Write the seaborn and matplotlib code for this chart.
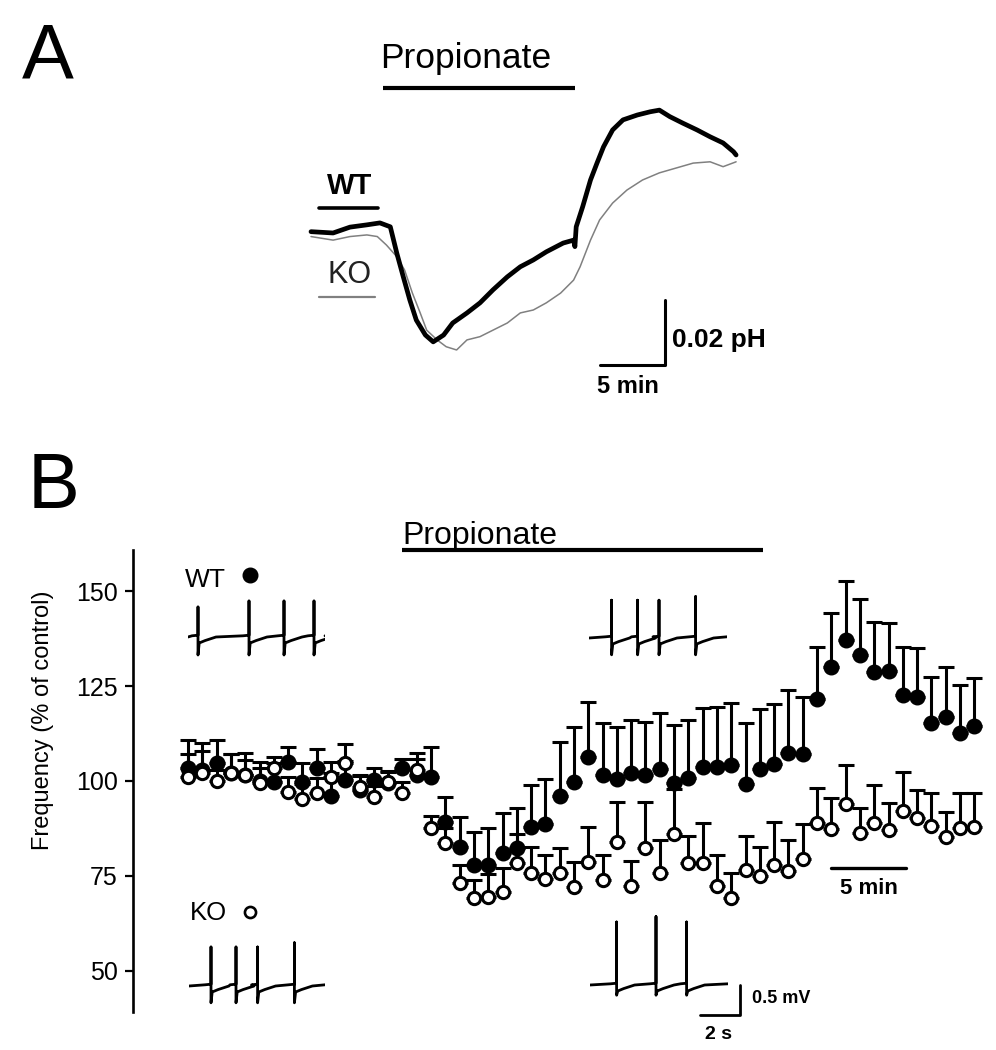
import numpy as np
import pandas as pd
import matplotlib
matplotlib.use("Agg")
import matplotlib.pyplot as plt
import matplotlib.transforms as mtransforms
import seaborn as sns

sns.set_style("white")
plt.rcParams['font.family'] = ['Liberation Sans', 'DejaVu Sans']
plt.rcParams['text.color'] = 'black'
plt.rcParams['axes.labelcolor'] = 'black'
plt.rcParams['ytick.color'] = 'black'

# Panel A: intracellular pH traces (time in min, change in milli-pH units)
WT_PH_TIME = [0.0, 1.7, 3.0, 4.3, 5.3, 6.1, 6.6, 7.1, 7.6, 8.1, 8.8, 9.4, 10.2, 10.9,
              12.0, 13.0, 14.0, 15.1, 16.1, 17.1, 18.1, 19.4, 20.2, 20.3, 20.4, 20.9,
              21.5, 22.0, 22.5, 23.2, 24.0, 25.1, 26.1, 26.8, 27.6, 28.6, 29.7, 30.7,
              31.7, 32.5, 32.7]
WT_PH = [0.1, -0.3, 1.5, 2.2, 2.8, 1.6, -6.5, -13.8, -20.9, -27.1, -31.7, -33.8, -31.7,
         -28.0, -24.9, -21.8, -17.8, -13.8, -10.7, -8.6, -6.1, -3.4, -2.5, -4.5, 1.6,
         7.8, 16.0, 21.2, 26.2, 31.4, 34.5, 36.0, 37.0, 37.5, 35.5, 33.5, 31.4, 29.3,
         27.4, 24.7, 23.7]
KO_PH_TIME = [0.0, 1.7, 3.0, 4.3, 5.1, 5.8, 6.6, 7.2, 7.8, 8.4, 8.9, 9.7, 10.4, 11.2,
              12.0, 13.0, 14.0, 15.1, 16.1, 17.1, 18.1, 19.2, 20.2, 20.7, 21.5, 22.2,
              23.2, 24.3, 25.5, 26.8, 28.1, 29.4, 30.7, 31.7, 32.7]
KO_PH = [-1.4, -2.5, -1.4, -0.9, -1.4, -4.0, -7.6, -11.7, -18.8, -24.9, -30.2, -33.2,
         -35.3, -36.3, -33.2, -32.2, -30.2, -28.0, -24.9, -24.0, -21.8, -18.8, -14.8,
         -10.7, -2.5, 3.7, 8.9, 12.9, 16.0, 18.2, 19.7, 21.2, 21.6, 20.1, 21.6]

# Panel B: spike frequency (% of control), one point per minute
MINUTES = list(range(56))
WT_FREQ = [103.4, 103, 104.7, 102, 101.5, 100, 99.7, 105, 99.7, 103.4, 96, 100.3, 97.5,
           100.3, 99.5, 103.3, 101.6, 101.1, 89.3, 82.7, 77.9, 77.9, 81.0, 82.3, 88.0,
           88.7, 96.1, 99.8, 106.4, 101.6, 100.4, 102, 101.6, 103.1, 99.6, 100.7, 103.8,
           103.8, 104.2, 99.2, 103.1, 104.5, 107.5, 107.1, 121.5, 130.1, 137.1, 133.2,
           128.8, 128.9, 122.6, 122.2, 115.2, 116.9, 112.7, 114.5]
WT_SEM = [7.4, 7, 6, 5, 6, 5, 5, 4, 5, 5, 6, 5, 4, 3, 3, 2.5, 5.7, 7.8, 6.4, 7.9, 8.8,
          9.6, 10.5, 10.5, 11, 11.7, 14.2, 14.3, 14.5, 13.6, 13.7, 14.1, 14, 14.7, 15.1,
          15.4, 15.5, 15.8, 16.4, 16, 15.8, 15.7, 16.5, 14.9, 13.7, 14.2, 15.6, 14.6,
          13.1, 12.8, 12.7, 12.7, 12.2, 13.2, 12.6, 12.5]
KO_FREQ = [101, 102, 100, 102, 101.6, 99.5, 103.4, 97, 95.3, 96.8, 101, 104.7, 98.4,
           95.8, 99.7, 96.8, 102.9, 87.5, 83.6, 73.1, 69.1, 69.5, 70.9, 78.5, 75.9, 74.1,
           75.7, 72.2, 78.8, 73.9, 84.0, 72.4, 82.3, 75.9, 86, 78.3, 78.3, 72.4, 69.1,
           76.6, 75, 77.9, 76.4, 79.4, 88.9, 87.3, 93.9, 86.4, 89, 87.1, 92.2, 90.2, 88.2,
           85.3, 87.6, 88]
KO_SEM = [6, 6, 3, 5, 4, 4, 3, 4, 4, 4, 4, 5, 3, 3, 3, 3, 3, 3.4, 4, 4.8, 4.9, 6, 6.1,
          7.5, 6.8, 6.4, 6.6, 6.6, 9, 6.6, 10.6, 6.6, 12.3, 8.6, 12, 7.2, 10.6, 8.1, 6.8,
          8.9, 7.5, 11.4, 8.2, 9.3, 9.2, 8.1, 10.3, 6.4, 9.9, 7.2, 10.2, 7.4, 8.6, 6.5,
          9.2, 8.9]
Y_TICKS = [50, 75, 100, 125, 150]

PROP_A = (5.5, 20.3)   # min, panel A time base
PROP_B = (15, 40.2)    # min, panel B time base

# example spike recordings (s, mV)
WT_CTRL_SPIKES, WT_CTRL_PEAKS = [0.5, 3.05, 4.8, 6.3], [0.5, 0.6, 0.6, 0.6]
WT_PROP_SPIKES, WT_PROP_PEAKS = [1.13, 2.43, 3.5, 5.33], [0.63, 0.63, 0.63, 0.69]
KO_CTRL_SPIKES, KO_CTRL_PEAKS = [1.1, 2.35, 3.43, 5.27], [0.65, 0.65, 0.65, 0.72]
KO_PROP_SPIKES, KO_PROP_PEAKS = [1.33, 3.3, 4.83], [1.05, 1.14, 1.05]

W, H = 996, 1050
fig = plt.figure(figsize=(W / 100, H / 100), dpi=100)


def px_rect(left, top, right, bottom):
    return [left / W, 1 - bottom / H, (right - left) / W, (bottom - top) / H]


# ---------------- panel A ----------------
axA = fig.add_axes(px_rect(300, 40, 790, 410))
dfA = pd.concat([
    pd.DataFrame({'t': WT_PH_TIME, 'ph': WT_PH, 'g': 'WT'}),
    pd.DataFrame({'t': KO_PH_TIME, 'ph': KO_PH, 'g': 'KO'}),
])
sns.lineplot(data=dfA[dfA.g == 'KO'], x='t', y='ph', sort=False, estimator=None,
             color='#808080', lw=1.1, ax=axA)
sns.lineplot(data=dfA[dfA.g == 'WT'], x='t', y='ph', sort=False, estimator=None,
             color='black', lw=3.4, ax=axA)
axA.set_xlim((300 - 311) / 13, (790 - 311) / 13)
axA.set_ylim((232 - 410) / 3.25, (232 - 40) / 3.25)
axA.axis('off')

axA.plot(PROP_A, [44.3, 44.3], color='black', lw=3, solid_capstyle='butt')
axA.text(11.9, 53.5, 'Propionate', ha='center', va='center', fontsize=25.5)
axA.plot([0.6, 5.15], [7.4, 7.4], color='black', lw=2.6)
axA.text(3.0, 14.2, 'WT', ha='center', va='center', fontsize=21, fontweight='bold')
axA.plot([0.6, 4.9], [-20, -20], color='#808080', lw=1.6)
axA.text(3.0, -13.2, 'KO', ha='center', va='center', fontsize=22, color='#222222')
# scale bars: 5 min, 0.02 pH
axA.plot([22.2, 27.2, 27.2], [-40.9, -40.9, -20.9], color='black', lw=2.2)
axA.text(27.8, -33.2, '0.02 pH', ha='left', va='center', fontsize=19, fontweight='bold')
axA.text(24.4, -47.6, '5 min', ha='center', va='center', fontsize=17, fontweight='bold')

fig.text(22 / W, 1 - 78 / H, 'A', fontsize=56, va='baseline', ha='left')
fig.text(28 / W, 1 - 508 / H, 'B', fontsize=56, va='baseline', ha='left')

# ---------------- panel B ----------------
axB = fig.add_axes(px_rect(133, 550, 990, 1012))
zeros = np.zeros(len(MINUTES))
axB.errorbar(MINUTES, WT_FREQ, yerr=[zeros, WT_SEM], fmt='none', ecolor='black',
             elinewidth=2.2, capsize=5.5, capthick=2.2, zorder=2)
sns.scatterplot(x=MINUTES, y=WT_FREQ, color='black', edgecolor='black', s=110,
                linewidth=1, ax=axB, zorder=3)
axB.errorbar(MINUTES, KO_FREQ, yerr=[zeros, KO_SEM], fmt='none', ecolor='black',
             elinewidth=2.2, capsize=5.5, capthick=2.2, zorder=4)
sns.scatterplot(x=MINUTES, y=KO_FREQ, color='white', edgecolor='black', s=78,
                linewidth=2.2, ax=axB, zorder=5)

axB.set_xlim(-3.85, 56.1)
axB.set_ylim(39.2, 160.8)
axB.set_yticks(Y_TICKS)
axB.set_xticks([])
for side in ['top', 'right', 'bottom']:
    axB.spines[side].set_visible(False)
axB.spines['left'].set_linewidth(1.9)
axB.spines['left'].set_color('black')
axB.tick_params(axis='y', direction='out', length=6, width=1.6, labelsize=18, pad=5,
                left=True)
axB.set_ylabel('Frequency (% of control)', fontsize=17)
axB.yaxis.set_label_coords(-0.092, 0.632)
axB.set_xlabel('')

trans = mtransforms.blended_transform_factory(axB.transData, axB.transAxes)
axB.plot(PROP_B, [1.0, 1.0], color='black', lw=3, transform=trans, clip_on=False,
         solid_capstyle='butt')
axB.text(20.4, 1.03, 'Propionate', transform=trans, ha='center', va='center',
         fontsize=23)

# genotype keys
axB.text(1.2, 153.0, 'WT', ha='center', va='center', fontsize=19)
axB.plot([4.34], [154.2], 'o', color='black', ms=10.5)
axB.text(1.4, 65.3, 'KO', ha='center', va='center', fontsize=18.5)
axB.plot([4.34], [65.5], 'o', mfc='white', mec='black', ms=8, mew=1.9)

# 5 min scale bar
axB.plot([45, 50.2], [77.1, 77.1], color='black', lw=2.4)
axB.text(47.6, 71.6, '5 min', ha='center', va='center', fontsize=16, fontweight='bold')

# ---------------- spike trace insets ----------------
PX_PER_S, PX_PER_MV = 20.0, 60.0


def spike_trace(spikes, peaks, trough, length):
    t, v = [0.0], [0.0]
    for ts, pk in zip(spikes, peaks):
        t += [ts - 0.3, ts, ts, ts, ts + 0.06, ts + 0.35, ts + 0.9]
        v += [0.02, 0.03, pk, trough, -0.1, -0.06, 0.0]
    t.append(length)
    v.append(0.02)
    return t, v


def trace_axes(left_px, base_px, length_s):
    top = base_px - 1.3 * PX_PER_MV
    bottom = base_px + 0.6 * PX_PER_MV
    ax = fig.add_axes(px_rect(left_px, top, left_px + length_s * PX_PER_S, bottom))
    ax.set_xlim(0, length_s)
    ax.set_ylim(-0.6, 1.3)
    ax.axis('off')
    return ax


for left, base, length, spikes, peaks, trough in [
        (188, 637, 6.85, WT_CTRL_SPIKES, WT_CTRL_PEAKS, -0.3),
        (589, 638, 6.9, WT_PROP_SPIKES, WT_PROP_PEAKS, -0.28),
        (189, 986, 6.8, KO_CTRL_SPIKES, KO_CTRL_PEAKS, -0.28),
        (590, 985, 6.9, KO_PROP_SPIKES, KO_PROP_PEAKS, -0.17)]:
    axT = trace_axes(left, base, length)
    tt, vv = spike_trace(spikes, peaks, trough, length)
    sns.lineplot(x=tt, y=vv, sort=False, estimator=None, color='black', lw=2.0, ax=axT)

# 2 s / 0.5 mV scale bar, in the last trace's units
axT.plot([5.5, 7.5, 7.5], [-0.5, -0.5, 0.0], color='black', lw=2, clip_on=False)
axT.text(8.1, -0.22, '0.5 mV', ha='left', va='center', fontsize=13, fontweight='bold',
         clip_on=False)
axT.text(6.4, -0.83, '2 s', ha='center', va='center', fontsize=14, fontweight='bold',
         clip_on=False)

fig.savefig('out.png', dpi=100)
